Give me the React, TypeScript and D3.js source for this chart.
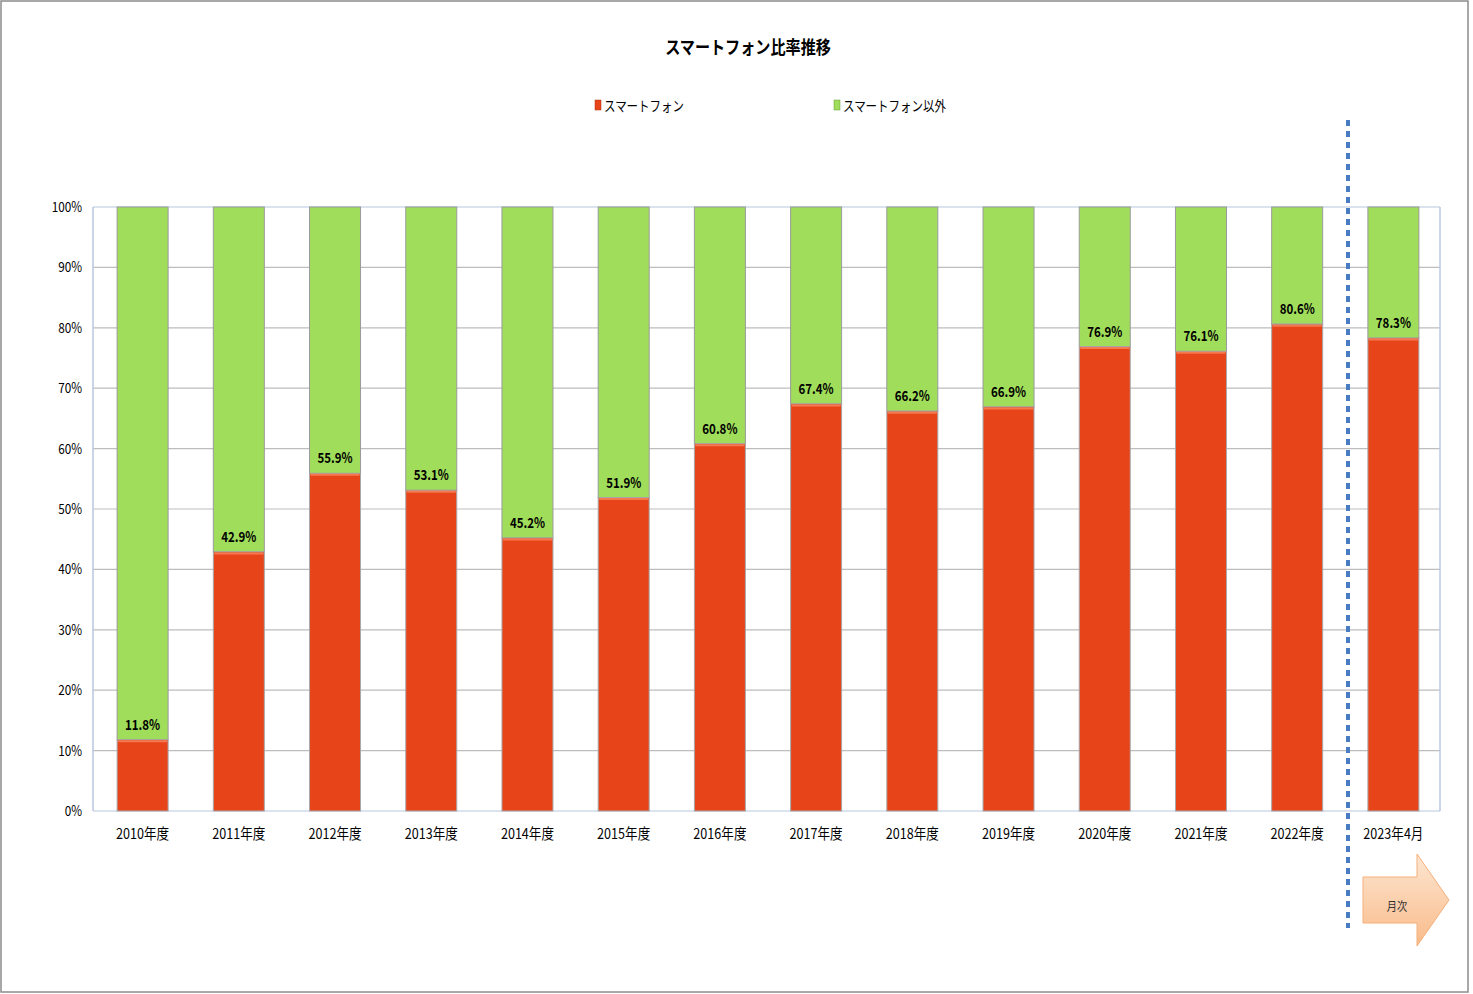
import React from "react";
import * as d3 from "d3";

const categories = ["2010年度","2011年度","2012年度","2013年度","2014年度","2015年度","2016年度","2017年度","2018年度","2019年度","2020年度","2021年度","2022年度","2023年4月"];
const smartphone = [11.8, 42.9, 55.9, 53.1, 45.2, 51.9, 60.8, 67.4, 66.2, 66.9, 76.9, 76.1, 80.6, 78.3];
const yTicks = [0, 10, 20, 30, 40, 50, 60, 70, 80, 90, 100];
const seriesNames = ["スマートフォン", "スマートフォン以外"];
const title = "スマートフォン比率推移";
const arrowLabel = "月次";

const W = 1473, H = 994;
const FONT = "'Noto Sans CJK JP', 'Noto Sans', sans-serif";
const RED = "#e8441a";
const GREEN = "#a0dd5a";

export default function App() {
  const x = d3.scaleBand<string>().domain(categories).range([94.5, 1441.5]).paddingInner(0.47).paddingOuter(0.235);
  const y = d3.scaleLinear().domain([0, 100]).range([811, 207]);
  const bw = x.bandwidth();
  const sx = 0.84;
  return (
    <svg width={W} height={H} style={{ position: "absolute", left: 0, top: 0, fontFamily: FONT }}>
      <rect x={0} y={0} width={W} height={H} fill="#fff" />
      <rect x={1} y={1} width={1467} height={991} fill="none" stroke="#8c8c8c" strokeWidth={1.5} />
      <text transform={`translate(748,54) scale(0.84,1)`} textAnchor="middle" fontSize={18} fontWeight="bold" fill="#000">{title}</text>
      {/* legend */}
      <rect x={595} y={100} width={6} height={10} fill={RED} stroke="#b03010" strokeWidth={0.5} />
      <text transform={`translate(604,111) scale(0.82,1)`} fontSize={14} fill="#000">{seriesNames[0]}</text>
      <rect x={834} y={100} width={6} height={10} fill={GREEN} stroke="#6a9a30" strokeWidth={0.5} />
      <text transform={`translate(843,111) scale(0.82,1)`} fontSize={14} fill="#000">{seriesNames[1]}</text>
      {/* gridlines */}
      {yTicks.map(t => (
        <line key={t} x1={93} x2={1440} y1={y(t)} y2={y(t)} stroke={t === 0 || t === 100 ? "#b8c8e0" : "#bdbdbd"} strokeWidth={1.2} />
      ))}
      <line x1={93} x2={93} y1={207} y2={811} stroke="#b8c8e0" strokeWidth={1.5} />
      <line x1={1440} x2={1440} y1={207} y2={811} stroke="#b8c8e0" strokeWidth={1.5} />
      {yTicks.map(t => (
        <text key={t} transform={`translate(82,${y(t) + 5}) scale(${sx},1)`} textAnchor="end" fontSize={14} fill="#000">{`${t}%`}</text>
      ))}
      {/* bars */}
      {categories.map((c, i) => {
        const v = smartphone[i];
        const x0 = x(c)!;
        return (
          <g key={c}>
            <rect x={x0} y={y(100)} width={bw} height={y(v) - y(100)} fill={GREEN} stroke="#9a9a9a" strokeWidth={1} />
            <rect x={x0} y={y(v)} width={bw} height={y(0) - y(v)} fill={RED} stroke="#a8a8a8" strokeWidth={1} />
            <line x1={x0 + 1} x2={x0 + bw - 1} y1={y(v) + 1.5} y2={y(v) + 1.5} stroke="#f5784f" strokeWidth={2} />
            <text transform={`translate(${x0 + bw / 2},${y(v) - 10}) scale(0.82,1)`} textAnchor="middle" fontSize={14} fontWeight="bold" fill="#000">{`${v.toFixed(1)}%`}</text>
            <text transform={`translate(${x0 + bw / 2},${839}) scale(${sx},1)`} textAnchor="middle" fontSize={15} fill="#000">{c}</text>
          </g>
        );
      })}
      {/* dotted separator */}
      <line x1={1348} x2={1348} y1={120} y2={928} stroke="#4a7cc4" strokeWidth={4} strokeDasharray="6 5" />
      {/* arrow */}
      <defs>
        <linearGradient id="arrowGrad" x1="0" y1="0" x2="0" y2="1">
          <stop offset="0" stopColor="#fde6d2" />
          <stop offset="1" stopColor="#f9bb8a" />
        </linearGradient>
      </defs>
      <path d="M1363,877 L1417,877 L1417,854 L1449,900 L1417,946 L1417,923 L1363,923 Z" fill="url(#arrowGrad)" stroke="#f5b07a" strokeWidth={1} />
      <text transform={`translate(1397,911) scale(0.85,1)`} textAnchor="middle" fontSize={12} fill="#333">{arrowLabel}</text>
    </svg>
  );
}
